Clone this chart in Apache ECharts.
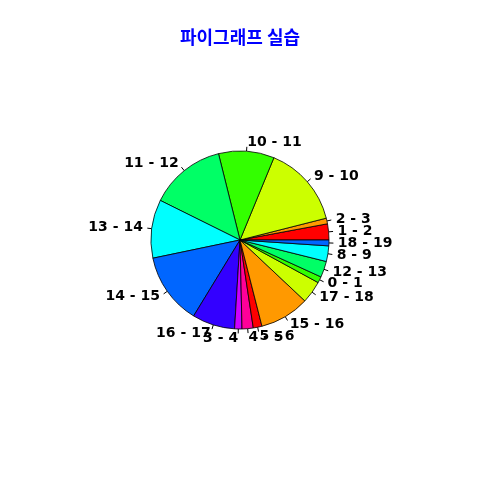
<!DOCTYPE html>
<html>
<head>
<meta charset="utf-8">
<script src="https://cdn.jsdelivr.net/npm/echarts@6/dist/echarts.min.js"></script>
<style>html,body{margin:0;padding:0;background:#fff;}#c{width:480px;height:480px;}</style>
</head>
<body>
<div id="c"></div>
<script>
const categories = ["1 - 2","2 - 3","9 - 10","10 - 11","11 - 12","13 - 14","14 - 15","16 - 17","3 - 4","4 - 5","5 - 6","15 - 16","17 - 18","0 - 1","12 - 13","8 - 9","18 - 19"];
const values = [10.5,3.7,53.4,36.4,49.6,38.2,46.8,27.9,4.8,7.3,5.7,32.5,14.6,4.1,10.5,10.2,3.8];
const palette = ["#FF0000","#FF9900","#CCFF00","#33FF00","#00FF66","#00FFFF","#0066FF","#3300FF","#CC00FF","#FF0099"];
const title = "파이그래프 실습";

const data = categories.map((c, i) => ({name: c, value: values[i], itemStyle: {color: palette[i % palette.length]}}));
const chart = echarts.init(document.getElementById('c'), null, {renderer: 'canvas'});
const R = 89;
chart.setOption({
  animation: false,
  title: {text: title, left: 'center', top: 23, textStyle: {color: '#0000FF', fontSize: 18, fontWeight: 'bold', fontFamily: '"Noto Sans CJK KR", sans-serif'}},
  series: [
    {
      type: 'pie', center: [240, 240], radius: [0, R], startAngle: 0, clockwise: false,
      avoidLabelOverlap: false, minShowLabelAngle: 0,
      data: data,
      itemStyle: {borderColor: '#000', borderWidth: 0.8},
      label: {show: true, formatter: ' ', color: 'transparent'},
      labelLine: {show: true, length: R * 0.05, length2: 0, smooth: false, lineStyle: {color: '#000', width: 1}},
      labelLayout: {hideOverlap: false},
      emphasis: {disabled: true}
    },
    {
      type: 'pie', center: [240, 240], radius: [0, R], startAngle: 0, clockwise: false,
      avoidLabelOverlap: false, minShowLabelAngle: 0, silent: true,
      data: categories.map((c, i) => ({name: c, value: values[i]})),
      itemStyle: {color: 'rgba(0,0,0,0)', borderWidth: 0},
      label: {show: true, position: 'outside', distanceToLabelLine: 0, color: '#000', fontSize: 14, fontWeight: 'bold', fontFamily: '"DejaVu Sans", sans-serif'},
      labelLine: {show: false, length: R * 0.1, length2: 0},
      labelLayout: {hideOverlap: false},
      emphasis: {disabled: true}
    }
  ]
});
</script>
</body>
</html>
